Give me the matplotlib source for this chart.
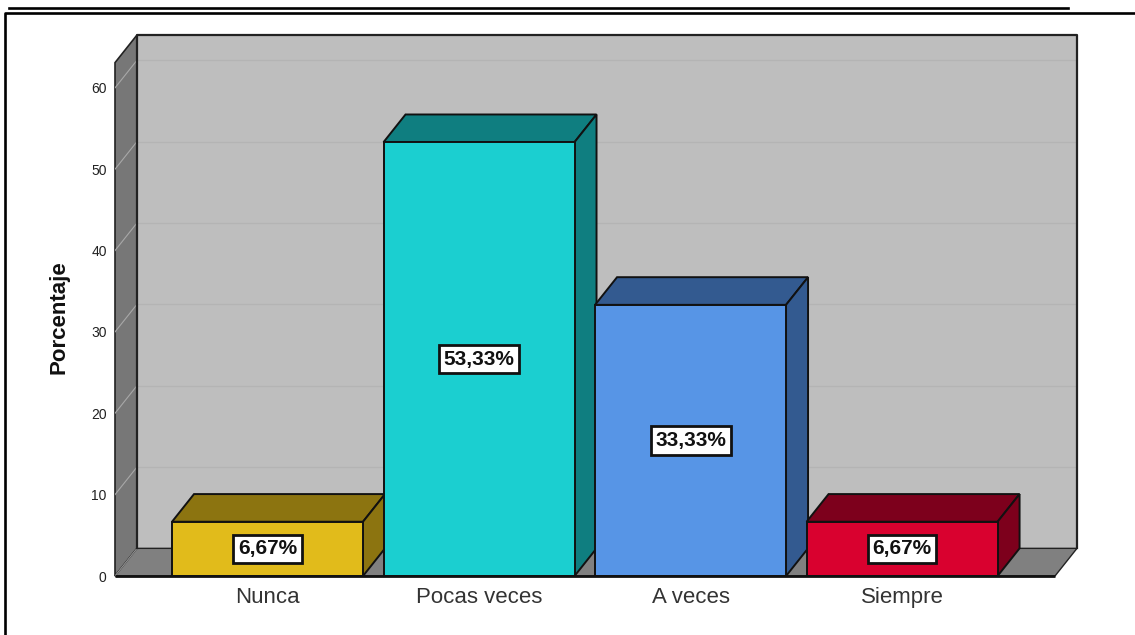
import matplotlib
matplotlib.use("Agg")
import matplotlib.pyplot as plt
from matplotlib.lines import Line2D
from matplotlib.patches import Polygon

categories = ["Nunca", "Pocas veces", "A veces", "Siempre"]
values = [6.67, 53.33, 33.33, 6.67]
labels = ["6,67%", "53,33%", "33,33%", "6,67%"]
yticks = [0, 10, 20, 30, 40, 50, 60]

front_colors = ["#e1bb1b", "#1bcfd0", "#5795e6", "#d9012f"]
top_colors = ["#8c7410", "#0f7e80", "#335a90", "#7d001c"]
side_colors = ["#8c7410", "#0f7e80", "#335a90", "#7d001c"]

plt.rcParams["font.family"] = ["Liberation Sans", "DejaVu Sans"]

W, H = 1135, 635
fig = plt.figure(figsize=(W / 100, H / 100), dpi=100)
# axes box runs from the front left corner to the back right corner of the 3d frame
ax = fig.add_axes([115 / W, (H - 576) / H, (1077 - 115) / W, (576 - 35) / H])
xmin, xmax = -0.721, 3.827
ymax = 66.5
ax.set_xlim(xmin, xmax)
ax.set_ylim(0, ymax)
ax.patch.set_visible(False)
for s in ax.spines.values():
    s.set_visible(False)

dx = 0.104  # depth of the fake 3d
dy = 3.4
bar_w = 0.903
front_r = xmax - dx
edge = "#111111"

# walls
ax.add_patch(Polygon([(xmin + dx, dy), (xmax, dy), (xmax, ymax), (xmin + dx, ymax)],
                     fc="#bebebe", ec="none", zorder=1))
ax.add_patch(Polygon([(xmin, 0), (xmin + dx, dy), (xmin + dx, ymax), (xmin, ymax - dy)],
                     fc="#777777", ec="#222222", lw=1.2, zorder=1, clip_on=False))
ax.add_patch(Polygon([(xmin, 0), (front_r, 0), (xmax, dy), (xmin + dx, dy)],
                     fc="#808080", ec="#222222", lw=1, zorder=1, clip_on=False))

# grid lines on the walls
for t in yticks[1:]:
    ax.plot([xmin + dx, xmax], [t + dy, t + dy], color="#b4b4b4", lw=1, zorder=2)
    ax.plot([xmin, xmin + dx], [t, t + dy], color="#a8a8a8", lw=0.8, zorder=2)
ax.plot([xmin, xmin + dx], [0, dy], color="#949494", lw=0.8, zorder=2)

# back wall outline, heavier than the rest
ax.plot([xmin + dx, xmin + dx, xmax, xmax], [dy, ymax, ymax, dy], color="#222222", lw=1.6,
        zorder=2.5, clip_on=False)

# bars, left to right so each one covers the side of the one before
for i, v in enumerate(values):
    l = i - bar_w / 2
    r = i + bar_w / 2
    z = 3 + i
    ax.bar(i, v, width=bar_w, color=front_colors[i], edgecolor=edge, linewidth=1.4, zorder=z + 0.2)
    ax.add_patch(Polygon([(l, v), (r, v), (r + dx, v + dy), (l + dx, v + dy)],
                         fc=top_colors[i], ec=edge, lw=1.4, zorder=z))
    ax.add_patch(Polygon([(r, 0), (r + dx, dy), (r + dx, v + dy), (r, v)],
                         fc=side_colors[i], ec=edge, lw=1.4, zorder=z))

for i, v in enumerate(values):
    ax.text(i, v / 2, labels[i], ha="center", va="center", fontsize=15, fontweight="bold",
            color="#111111", zorder=10,
            bbox=dict(boxstyle="square,pad=0.22", fc="white", ec="#111111", lw=2))

ax.plot([xmin, front_r], [0, 0], color="#111111", lw=2, zorder=9, solid_capstyle="butt", clip_on=False)

ax.set_xticks(range(len(categories)))
ax.set_xticklabels(categories, fontsize=16, color="#333333")
ax.set_yticks(yticks)
ax.tick_params(axis="x", length=0, pad=8)
ax.tick_params(axis="y", length=0, pad=6, labelsize=10, labelcolor="#222222")
ax.set_ylabel("Porcentaje", fontsize=16, fontweight="bold", color="#111111")
ax.yaxis.set_label_coords(-0.047, 0.478)

# page rules and frame around the chart
fig.add_artist(Line2D([9 / W, 1068 / W], [1 - 8 / H, 1 - 8 / H], color="black", lw=1.9))
fig.add_artist(Line2D([5 / W, 5 / W, 1], [0, 1 - 13 / H, 1 - 13 / H], color="black", lw=1.9))

fig.savefig("out.png", dpi=100)
